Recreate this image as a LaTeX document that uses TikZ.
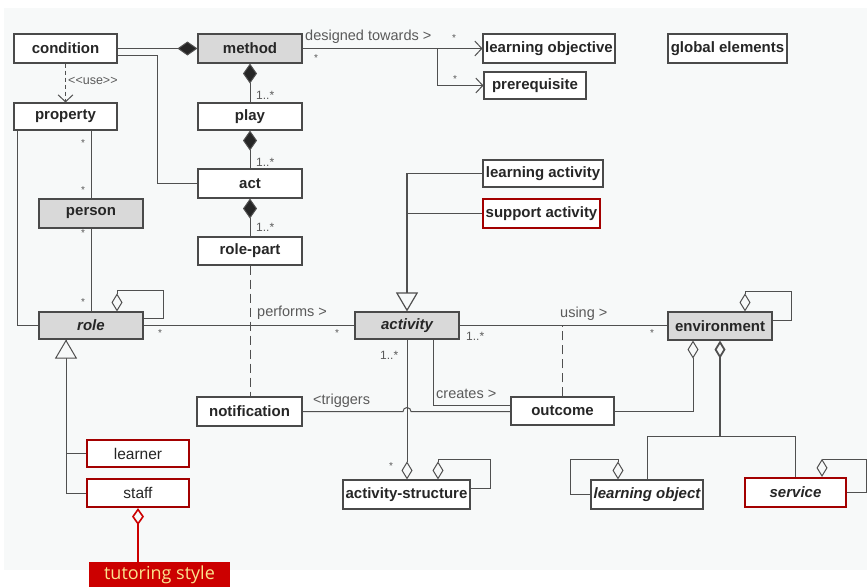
\documentclass[tikz,border=0pt]{standalone}
\usepackage{fontspec}
\setmainfont{Liberation Sans}
\newfontfamily\tutfont{Open Sans}
\usetikzlibrary{arrows.meta}
\definecolor{bgc}{HTML}{F7F9F9}
\definecolor{linec}{HTML}{505050}
\definecolor{boxc}{HTML}{4A4A4A}
\definecolor{grayfill}{HTML}{D9D9D9}
\definecolor{redc}{HTML}{A30000}
\definecolor{tutred}{HTML}{CC0000}
\definecolor{tuttext}{HTML}{FBE38E}
\definecolor{labc}{HTML}{5A5A5A}
\tikzset{
  FD/.tip={Diamond[length=20pt,width=14pt,fill=black!85]},
  OD/.tip={Diamond[length=18pt,width=11pt,fill=bgc]},
  OT/.tip={Triangle[length=19pt,width=22pt,fill=bgc]},
  VB/.tip={Straight Barb[length=7pt,width=15pt]},
}
\begin{document}
\begin{tikzpicture}[x=1pt,y=-1pt,
  box/.style={draw=boxc, line width=1.1pt, fill=white, inner sep=0pt,
    font=\fontsize{15}{17}\selectfont\bfseries, text=black!85},
  gbox/.style={box, fill=grayfill},
  rbox/.style={box, draw=redc, line width=2.2pt},
  ln/.style={draw=linec, line width=1pt},
  lab/.style={font=\fontsize{14.5}{16}\selectfont, text=labc, inner sep=0pt, anchor=west},
  star/.style={font=\fontsize{10}{12}\selectfont, text=labc, inner sep=0pt},
  mult/.style={font=\fontsize{12}{14}\selectfont, text=labc, inner sep=0pt, anchor=west},
]
\useasboundingbox (0,0) rectangle (867,587);
\fill[white] (0,0) rectangle (867,587);
\fill[bgc] (4,8) rectangle (867,570);

% nodes
\node[box, minimum width=103, minimum height=29] (condition) at (65.5,48.5) {condition};
\node[gbox, minimum width=104, minimum height=29] (method) at (250,48.5) {method};
\node[box, minimum width=132, minimum height=29] (learningobjective) at (549,48.5) {learning objective};
\node[box, minimum width=102, minimum height=27] (prerequisite) at (535,85.5) {prerequisite};
\node[box, minimum width=119, minimum height=29] (global) at (727.5,48.5) {global elements};
\node[box, minimum width=103, minimum height=27] (property) at (65.5,116.5) {property};
\node[box, minimum width=104, minimum height=27] (play) at (250,116.5) {play};
\node[box, minimum width=104, minimum height=29] (act) at (250,183.5) {act};
\node[gbox, minimum width=104, minimum height=29] (person) at (91,213.5) {person};
\node[box, minimum width=104, minimum height=28] (rolepart) at (250,251) {role-part};
\node[box, minimum width=120, minimum height=27] (learningactivity) at (543,173.5) {learning activity};
\node[rbox, minimum width=117, minimum height=29] (supportactivity) at (541.5,213.5) {support activity};
\node[gbox, minimum width=104, minimum height=27, font=\fontsize{15}{17}\selectfont\bfseries\itshape] (role) at (91,325.5) {role};
\node[gbox, minimum width=104, minimum height=27, font=\fontsize{15}{17}\selectfont\bfseries\itshape] (activity) at (407,325.5) {activity};
\node[gbox, minimum width=104, minimum height=28] (environment) at (720,326) {environment};
\node[box, minimum width=105, minimum height=29] (notification) at (249.5,411.5) {notification};
\node[box, minimum width=103, minimum height=28] (outcome) at (562.5,411) {outcome};
\node[rbox, minimum width=102, minimum height=27, font=\fontsize{15.5}{17}\selectfont] (learner) at (138,453.5) {learner};
\node[rbox, minimum width=102, minimum height=28, font=\fontsize{15.5}{17}\selectfont] (staff) at (138,493) {staff};
\node[box, minimum width=127, minimum height=29] (activitystructure) at (406.5,494.5) {activity-structure};
\node[box, minimum width=112, minimum height=29, font=\fontsize{15}{17}\selectfont\bfseries\itshape] (learningobject) at (647,494.5) {learning object};
\node[rbox, minimum width=101, minimum height=29, font=\fontsize{15}{17}\selectfont\bfseries\itshape] (service) at (795.5,492.5) {service};
\node[fill=tutred, minimum width=141, minimum height=25, inner sep=0pt, text=tuttext,
  font=\tutfont\fontsize{18}{20}\selectfont] (tutoring) at (159.5,574.5) {tutoring style};

% connectors
\draw[ln, -FD] (condition.east) -- (method.west);
\draw[ln] ([yshift=-7pt]condition.east) -- ++(40pt,0) |- (act.west);
\draw[ln, dashed, dash pattern=on 4pt off 3pt, -VB] (condition.south) -- (property.north);
\node[lab, font=\fontsize{12.5}{14}\selectfont] (uselab) at (68,81) {<{}<use>{}>};

\draw[ln, -FD] (play.north) -- (method.south);
\node[mult] (m1) at (256,95) {1..*};
\draw[ln, -FD] (act.north) -- (play.south);
\node[mult] (m2) at (256,162) {1..*};
\draw[ln, -FD] (rolepart.north) -- (act.south);
\node[mult] (m3) at (256,227) {1..*};
\draw[ln, dashed, dash pattern=on 9pt off 5pt] (rolepart.south) -- (rolepart.south |- notification.north);

% property - person - role
\draw[ln] (property.south -| person.north) -- (person.north);
\node[star] (s1) at (83,143) {*};
\node[star] (s2) at (83,190) {*};
\draw[ln] (person.south) -- (role.north);
\node[star] (s3) at (83,233) {*};
\node[star] (s4) at (83,302) {*};
\draw[ln] ([xshift=4pt]property.south west) |- (role.west);

% role self
\draw[ln, OD-] ([xshift=26pt]role.north) -- ++(0,-21) -- ++(46,0) |- ([yshift=7.5pt]role.east);

% performs
\draw[ln] (role.east) -- (activity.west);
\node[lab] (performs) at (257,313) {performs >};
\node[star] (s5) at (160,333) {*};
\node[star] (s6) at (337,333) {*};

% role generalization
\draw[ln] ([xshift=-25pt]role.south) |- (learner.west);
\draw[ln, OT-] ([xshift=-25pt]role.south) |- (staff.west);

% staff - tutoring style
\draw[draw=tutred, line width=1.6pt, {Diamond[length=17pt,width=12pt,fill=bgc]}-] (staff.south) -- (staff.south |- tutoring.north);

% activity generalization
\draw[ln] (supportactivity.west) -- (supportactivity.west -| activity.north);
\draw[ln, line width=1.2pt, -OT] (learningactivity.west) -| (activity.north);

% using
\draw[ln] (activity.east) -- (activity.east -| environment.west);
\node[lab] (using) at (560,314) {using >};
\node[mult] (m4) at (466,336) {1..*};
\node[star] (s7) at (652,333) {*};
\draw[ln, dashed, dash pattern=on 9pt off 5pt] (outcome.north) -- (outcome.north |- activity.east);

% creates
\draw[ln] ([xshift=26pt]activity.south) |- ([yshift=6pt]outcome.west);
\node[lab] (creates) at (436,394) {creates >};

% activity-structure
\draw[ln, -OD] (activity.south) -- (activity.south |- activitystructure.north);
\node[mult] (m5) at (380,355) {1..*};
\node[star] (s8) at (391,466) {*};

% triggers with hop
\draw[ln] (notification.east) -- ([xshift=-4pt]notification.east -| activity.south)
  arc[start angle=180, end angle=0, radius=4pt] -- (outcome.west |- notification.east);
\node[lab] (triggers) at (313,401) {<triggers};

% activity-structure self
\draw[ln, OD-] ([xshift=31.5pt]activitystructure.north) -- ++(0,-20) -- ++(52,0) |- ([yshift=6.5pt]activitystructure.east);

% environment self
\draw[ln, OD-] ([xshift=25pt]environment.north) -- ++(0,-20) -- ++(46,0) |- ([yshift=6pt]environment.east);

% environment - outcome
\draw[ln, OD-] ([xshift=-27pt]environment.south) |- (outcome.east);

% environment - learning object / service
\coordinate (envjoin) at ([yshift=-96pt]environment.south);
\draw[ln, line width=1.8pt, OD-] (environment.south) -- (envjoin);
\draw[ln] (learningobject.north) |- (envjoin) -| (service.north);

% learning object self
\draw[ln, OD-] ([xshift=-29pt]learningobject.north) -- ++(0,-20) -- ++(-48,0) |- (learningobject.west);

% service self
\draw[ln, OD-] ([xshift=26.5pt]service.north) -- ++(0,-17) -- ++(44,0) |- (service.east);

% designed towards
\draw[ln, -VB] (method.east) -- (learningobjective.west);
\coordinate (dt) at ([xshift=135pt]method.east);
\draw[ln, -VB] (dt) |- (prerequisite.west);
\node[lab] (designed) at (305,37) {designed towards >};
\node[star] (s9) at (316,58) {*};
\node[star] (s10) at (454,38) {*};
\node[star] (s11) at (455,79) {*};
\end{tikzpicture}
\end{document}
